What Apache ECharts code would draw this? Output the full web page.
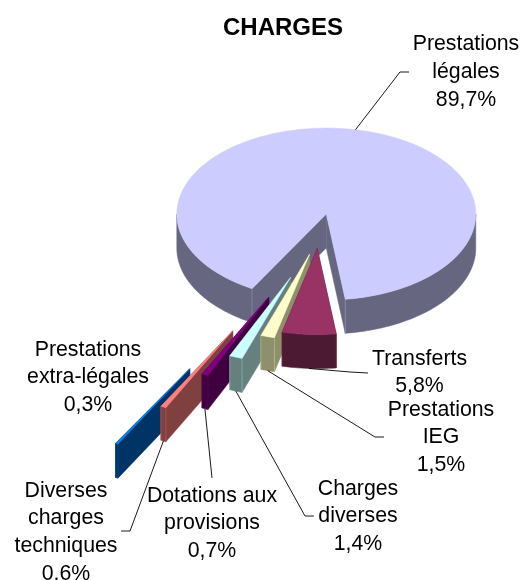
<!DOCTYPE html>
<html>
<head>
<meta charset="utf-8">
<style>html,body{margin:0;padding:0;background:#fff}#c{width:521px;height:580px}</style>
<script src="https://cdn.jsdelivr.net/npm/echarts@6/dist/echarts.min.js"></script>
</head>
<body>
<div id="c"></div>
<script>
const categories = ['Prestations légales', 'Transferts', 'Prestations IEG', 'Charges diverses', 'Dotations aux provisions', 'Diverses charges techniques', 'Prestations extra-légales'];
const values = [89.7, 5.8, 1.5, 1.4, 0.7, 0.6, 0.3];
const valueLabels = ['89,7%', '5,8%', '1,5%', '1,4%', '0,7%', '0,6%', '0,3%'];
const labelLines = [
  ['Prestations', 'légales'], ['Transferts'], ['Prestations', 'IEG'], ['Charges', 'diverses'],
  ['Dotations aux', 'provisions'], ['Diverses', 'charges', 'techniques'], ['Prestations', 'extra-légales']
];
// share of the radius each slice is pulled out of the pie
const explode = [0.27, 0.138, 0.21, 0.505, 0.776, 1.235, 1.76];
const topColors = ['#CCCCFF', '#993366', '#FFFFCC', '#CCFFFF', '#800080', '#FF8080', '#0A7FE6'];
const sideColors = ['#666680', '#4D1A33', '#8F8F6B', '#668080', '#400040', '#804040', '#003366'];
const drawOrder = [0, 6, 5, 4, 3, 2, 1];

// pie layout
const CX = 318.4, CY = 236.8, R = 149.5, SQUASH = 0.575, DEPTH = 34, FIRST_ANGLE = 209.8;
// label anchors: text centre, first line centre; leader elbow and end
const labelPos = [
  { x: 466, y: 44.5, elbow: [400, 72], end: [409, 72] },
  { x: 419.5, y: 359, elbow: [350, 372], end: [368, 373] },
  { x: 441, y: 410, elbow: [375, 437], end: [384, 437] },
  { x: 358, y: 489, elbow: [305, 516], end: [314, 516] },
  { x: 212, y: 496, elbow: null, end: [212, 478] },
  { x: 66, y: 491, elbow: [130, 531], end: [121, 531] },
  { x: 88, y: 350, elbow: null, end: null }
];
const LINE_H = 27.6;
const FONT = '21.3px "Liberation Sans", Arial, sans-serif';

const total = values.reduce((a, b) => a + b, 0);
function angles(i) {
  let s = FIRST_ANGLE;
  for (let k = 0; k < i; k++) s += values[k] / total * 360;
  return [s, s + values[i] / total * 360];
}
function pt(cx, cy, a, r) {
  const t = a * Math.PI / 180;
  return [cx + r * Math.sin(t), cy - r * Math.cos(t) * SQUASH];
}
function arc(cx, cy, a0, a1) {
  const n = Math.max(2, Math.ceil((a1 - a0) / 1.5));
  const p = [];
  for (let i = 0; i <= n; i++) p.push(pt(cx, cy, a0 + (a1 - a0) * i / n, R));
  return p;
}
const down = (p) => [p[0], p[1] + DEPTH];

function renderItem(params, api) {
  const i = params.dataIndex;
  const [a0, a1] = angles(i);
  const mid = (a0 + a1) / 2;
  const off = api.value(1) * R;
  const apex = pt(CX, CY, mid, off);
  const cx = apex[0], cy = apex[1];
  const zBase = drawOrder.indexOf(i) * 10;
  const side = sideColors[i], top = topColors[i];
  const children = [];
  const poly = (points, fill, z) => children.push({
    type: 'polygon', z2: zBase + z, shape: { points },
    style: { fill, stroke: fill, lineWidth: 0.5 }
  });
  // cut faces
  [a1, a0].forEach((a, k) => {
    const c = pt(cx, cy, a, R);
    poly([apex, c, down(c), down(apex)], side, k);
  });
  // outer wall, only the part facing the viewer
  [[90, 270], [450, 630]].forEach(([lo, hi]) => {
    const s = Math.max(a0, lo), e = Math.min(a1, hi);
    if (e > s) {
      const a = arc(cx, cy, s, e);
      poly(a.concat(a.slice().reverse().map(down)), side, 2);
    }
  });
  // faint edge where a cut face meets the outer wall
  [a0, a1].forEach((a) => {
    const c = pt(cx, cy, a, R);
    children.push({
      type: 'line', z2: zBase + 3,
      shape: { x1: c[0], y1: c[1], x2: c[0], y2: c[1] + DEPTH },
      style: { stroke: top, opacity: 0.28, lineWidth: 1 }
    });
  });
  // top face
  poly([apex].concat(arc(cx, cy, a0, a1)), top, 4);

  // leader line from the middle of the slice's rim
  const lp = labelPos[i];
  if (lp.end) {
    const rim = pt(cx, cy, mid, R);
    const m = mid % 360;
    const start = (m > 90 && m < 270) ? down(rim) : rim;
    const pts = lp.elbow ? [start, lp.elbow, lp.end] : [start, lp.end];
    children.push({
      type: 'polyline', z2: 100, shape: { points: pts },
      style: { fill: null, stroke: '#000', lineWidth: 0.9 }
    });
  }
  // label
  children.push({
    type: 'text', z2: 101,
    style: {
      x: lp.x, y: lp.y - LINE_H / 2,
      text: labelLines[i].concat(valueLabels[i]).join('\n'),
      font: FONT, lineHeight: LINE_H, align: 'center', verticalAlign: 'top', fill: '#000'
    }
  });
  return { type: 'group', children };
}

const chart = echarts.init(document.getElementById('c'), null, { renderer: 'canvas' });
chart.setOption({
  animation: false,
  backgroundColor: '#fff',
  title: {
    text: 'CHARGES', left: 283, top: 12, textAlign: 'center', padding: 0, itemGap: 0,
    textStyle: { fontFamily: '"Liberation Sans", Arial, sans-serif', fontSize: 24, fontWeight: 'bold', color: '#000', lineHeight: 32 }
  },
  series: [{
    type: 'custom',
    coordinateSystem: 'none',
    renderItem,
    encode: { value: 0 },
    data: categories.map((name, i) => ({ name, value: [values[i], explode[i]] }))
  }]
});
</script>
</body>
</html>
